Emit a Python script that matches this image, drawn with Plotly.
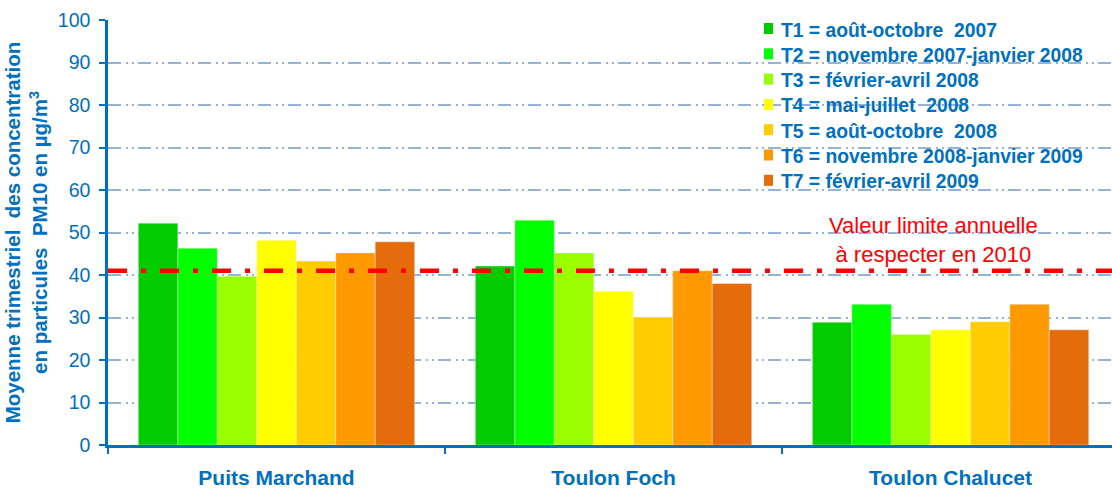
import plotly.graph_objects as go

# Monitoring sites
sites = ["Puits Marchand", "Toulon Foch", "Toulon Chalucet"]

# Quarterly PM10 means (µg/m3) per period, one list per site order above
periods = [
    "T1 = août-octobre  2007",
    "T2 = novembre 2007-janvier 2008",
    "T3 = février-avril 2008",
    "T4 = mai-juillet  2008",
    "T5 = août-octobre  2008",
    "T6 = novembre 2008-janvier 2009",
    "T7 = février-avril 2009",
]
t1 = [52.2, 42.1, 28.9]
t2 = [46.3, 52.9, 33.1]
t3 = [39.7, 45.2, 26.0]
t4 = [48.2, 36.2, 27.1]
t5 = [43.3, 30.1, 29.0]
t6 = [45.2, 41.0, 33.1]
t7 = [47.8, 38.0, 27.1]
series = [t1, t2, t3, t4, t5, t6, t7]

colors = ["#00CC00", "#00FF00", "#99FF00", "#FFFF00", "#FFCC00", "#FF9900", "#E46C0A"]

# Annual limit value line
limit_value = 41

blue = "#0070C0"
W, H = 1112, 488
M_L, M_R, M_T, M_B = 108, 0, 20, 43
plot_w = W - M_L - M_R
plot_h = H - M_T - M_B

fig = go.Figure()
for name, vals, col in zip(periods, series, colors):
    fig.add_trace(go.Bar(
        x=sites, y=vals, name=name,
        marker=dict(color=col, line=dict(width=0.6, color="rgba(255,255,255,0.6)")),
        showlegend=False,
    ))

# Period key: coloured squares with bold labels, top right
row0, row_step = 30.0, 25.3
for i, (name, col) in enumerate(zip(periods, colors)):
    yc = row0 + i * row_step
    yp = (H - M_B - yc) / plot_h
    x0 = (764 - M_L) / plot_w
    x1 = (773 - M_L) / plot_w
    dy = 5.5 / plot_h
    fig.add_shape(type="rect", xref="paper", yref="paper",
                  x0=x0, x1=x1, y0=yp - dy + 1.5 / plot_h, y1=yp + dy + 1.5 / plot_h,
                  fillcolor=col, line=dict(width=0), layer="above")
    fig.add_annotation(
        x=(779 - M_L) / plot_w, xref="paper", y=yp, yref="paper",
        xanchor="left", yanchor="middle", showarrow=False,
        text=f"<b>{name}</b>",
        font=dict(size=19.3, color=blue, family="Arial, Liberation Sans"),
    )

fig.add_shape(
    type="line", xref="paper", yref="y",
    x0=0, x1=1, y0=limit_value, y1=limit_value,
    line=dict(color="#FF0000", width=4.5, dash="19px,14px,5px,14px"),
    layer="above",
)

fig.add_annotation(
    x=0.822, xref="paper", y=limit_value + 0.3, yref="y",
    yanchor="bottom", xanchor="center",
    text="Valeur limite annuelle<br>à respecter en 2010",
    showarrow=False,
    font=dict(family="Liberation Sans Narrow, Arial Narrow, Arial", size=22, color="#FF0000"),
    align="center",
)

fig.update_layout(
    width=W, height=H,
    margin=dict(l=M_L, r=M_R, t=M_T, b=M_B),
    paper_bgcolor="white", plot_bgcolor="white",
    barmode="group", bargap=0.18, bargroupgap=0,
    font=dict(family="Arial, Liberation Sans", color=blue),
    showlegend=False,
)

fig.update_xaxes(
    type="category",
    range=[-0.5, 2.479],
    tickvals=sites, ticktext=[f"<b>{s}</b>" for s in sites],
    showline=True, linecolor=blue, linewidth=2.5,
    ticks="outside", ticklen=6, tickcolor=blue, tickwidth=1.5,
    tickson="boundaries",
    tickfont=dict(size=21, color=blue, family="Arial, Liberation Sans"),
    ticklabelstandoff=12,
    showgrid=False,
)

fig.update_yaxes(
    range=[0, 100], dtick=10,
    showline=True, linecolor=blue, linewidth=2.5,
    ticks="outside", ticklen=6, tickcolor=blue, tickwidth=1.5,
    tickfont=dict(size=19.5, color=blue),
    ticklabelstandoff=5,
    showgrid=True, gridcolor="#95B3D7", gridwidth=1.8,
    griddash="13px,5px,2px,4px,2px,4px",
    zeroline=False,
    title=dict(
        text="<b>Moyenne trimestriel  des concentration<br>en particules  PM10 en µg/m<sup>3</sup></b>",
        font=dict(size=20.5, color=blue),
        standoff=5,
    ),
)

fig.write_html("out.html")
